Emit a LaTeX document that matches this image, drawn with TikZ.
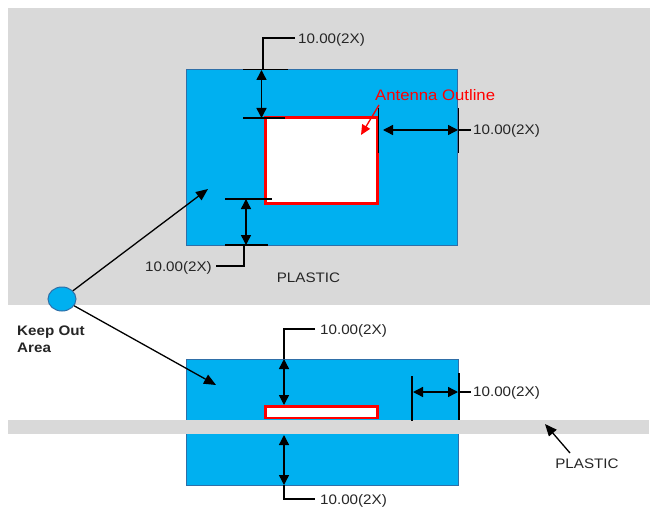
\documentclass[tikz,border=0pt]{standalone}
\usepackage{fontspec}
\setmainfont[FakeStretch=1.1]{Liberation Sans}
\usetikzlibrary{arrows.meta,shapes.geometric}
\definecolor{plastic}{HTML}{D9D9D9}
\definecolor{keepblue}{HTML}{00B0F0}
\definecolor{keepedge}{HTML}{2F6FA8}
\tikzset{
  x=1pt,y=-1pt,
  zone/.style={draw=keepedge,fill=keepblue,line width=1pt},
  plasticbar/.style={fill=plastic,draw=none},
  antenna/.style={draw=red,fill=white,line width=3pt},
  dim/.style={draw=black,line width=1.4pt},
  tick/.style={draw=black,line width=1.4pt},
  dimarrow/.style={draw=black,line width=1.4pt,{Triangle[width=10pt,length=10pt]}-{Triangle[width=10pt,length=10pt]}},
  pointer/.style={draw=black,line width=1.3pt,-{Triangle[width=10pt,length=12pt]}},
  lbl/.style={font=\fontsize{13.8}{16}\selectfont,inner sep=0pt,text=black!85},
}
\begin{document}
\begin{tikzpicture}
\useasboundingbox (0,0) rectangle (650,508);
\fill[white] (0,0) rectangle (650,508);
% plastic
\path[plasticbar] (8,8) rectangle (650,305);
% top zone
\path[zone] (186,70) rectangle (457,245);
\path[antenna] (265.5,117.5) rectangle (377.5,203.5);
% bottom zone
\path[zone] (186,359) rectangle (458,485);
\path[plasticbar] (8,420) rectangle (649,434);
\path[antenna,line width=2.6pt] (265.5,406.5) rectangle (377.5,418);

% nodes
\node[ellipse,draw=keepedge,fill=keepblue,line width=1pt,minimum width=28pt,minimum height=24pt,inner sep=0pt] (keep) at (62,299) {};
\node[lbl,anchor=north west,align=left,font=\fontsize{13.8}{17}\selectfont\bfseries] (keeptxt) at (17,326) {Keep Out\\Area};
\node[lbl,anchor=west] (t1) at (298,40) {10.00(2X)};
\node[lbl,anchor=west] (t2) at (473,131) {10.00(2X)};
\node[lbl,anchor=east] (t3) at (212,268) {10.00(2X)};
\node[lbl] (pl1) at (308.5,277.5) {PLASTIC};
\node[lbl,anchor=west,text=red,font=\fontsize{15.2}{17}\selectfont] (ant) at (375,95) {Antenna Outline};
\node[lbl,anchor=west] (t4) at (320,331) {10.00(2X)};
\node[lbl,anchor=west] (t5) at (473,393) {10.00(2X)};
\node[lbl,anchor=west] (t6) at (320,501) {10.00(2X)};
\node[lbl] (pl2) at (587,464) {PLASTIC};

% coordinates
\coordinate (keepA) at (208,189);
\coordinate (keepB) at (216,385);
\coordinate (antTip) at (361,135);
\coordinate (antTail) at (379,105);
\coordinate (plTip) at (545,424);
\coordinate (plTail) at (570,453);
\coordinate (c1) at (263,69.5);
\coordinate (c2) at (244,245);
\coordinate (c3) at (284,359);
\coordinate (c4) at (284,485);

% pointers
\draw[pointer] (keep) -- (keepA);
\draw[pointer] (keep) -- (keepB);
\draw[pointer] (plTail) -- (plTip);
\draw[draw=red,line width=1.3pt,-{Triangle[width=9pt,length=10pt]}] (antTail) -- (antTip);

% top dimension
\draw[tick] (243,69.5) -- (288,69.5);
\draw[tick] (243,118) -- (285,118);
\draw[dimarrow] (261.5,70) -- (261.5,118);
\draw[dim] ([xshift=-3pt,yshift=2pt]t1.west) -| (c1);

% right dimension
\draw[tick] (378.5,108) -- (378.5,153);
\draw[tick] (458.5,108) -- (458.5,153);
\draw[dimarrow] (383,130) -- (458,130);
\draw[dim] (458,130) -- ([xshift=-2pt,yshift=1pt]t2.west);

% lower left dimension
\draw[tick] (225,199) -- (272,199);
\draw[tick] (225,245) -- (268,245);
\draw[dimarrow] (246,199) -- (246,245);
\draw[dim] ([xshift=4pt,yshift=2pt]t3.east) -| (c2);

% bottom view top dimension
\draw[dim] ([xshift=-5pt,yshift=2pt]t4.west) -| (c3);
\draw[dimarrow] (c3) -- (284,405);
% bottom view right dimension
\draw[tick] (412,376) -- (412,421);
\draw[tick] (459,373) -- (459,420);
\draw[dimarrow] (413,392) -- (458,392);
\draw[dim] (458,392) -- ([xshift=-2pt,yshift=1pt]t5.west);
% bottom view lower dimension
\draw[dimarrow] (284,435) -- (c4);
\draw[dim] (c4) |- ([xshift=-5pt,yshift=2pt]t6.west);
\end{tikzpicture}
\end{document}
